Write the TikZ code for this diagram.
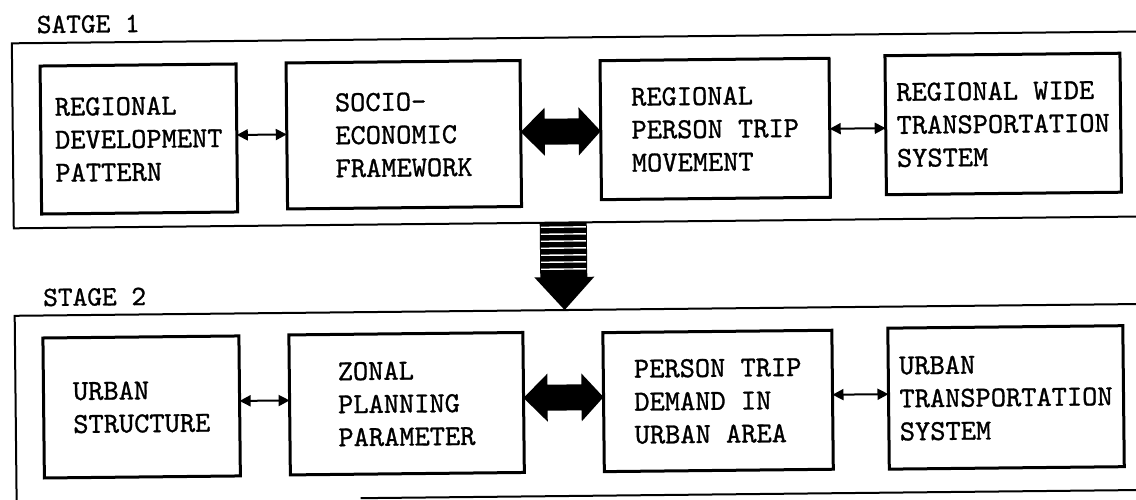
\documentclass[tikz,border=0pt]{standalone}
\usepackage{fontspec}
\usetikzlibrary{arrows.meta,calc}

% typewriter face, slightly emboldened
\newfontfamily\typewriter{lmmono10-regular.otf}[FakeBold=1.0]

\tikzset{
  box/.style={draw, line width=3pt, inner sep=0pt, outer sep=0pt, align=left,
    transform shape, font=\typewriter\bfseries\fontsize{29}{33}\selectfont},
  stagelbl/.style={anchor=west, inner sep=0pt, transform shape,
    font=\typewriter\bfseries\fontsize{28}{30}\selectfont},
  frame/.style={line width=2pt},
  linkarrow/.style={line width=2pt,
    {Triangle[length=11pt,width=11pt]}-{Triangle[length=11pt,width=11pt]}},
}

% broad two-headed arrow between two points on the same level
\newcommand{\wideduplex}[2]{%
  \fill ($(#1)$) -- ($(#1)+(24,-24)$) -- ($(#1)+(24,-13)$)
    -- ($(#2)+(-22,-13)$) -- ($(#2)+(-22,-24)$) -- ($(#2)$)
    -- ($(#2)+(-22,24)$) -- ($(#2)+(-22,13)$)
    -- ($(#1)+(24,13)$) -- ($(#1)+(24,24)$) -- cycle;}

\begin{document}
\begin{tikzpicture}[x=1pt,y=-1pt]
\useasboundingbox (0,0) rectangle (1136,499);
\clip (0,0) rectangle (1136,499);

\begin{scope}[rotate around={0.6:(568,250)}]

% ---------- stage 1 ----------
\node[stagelbl] (s1) at (39,19) {SATGE 1};
\draw[frame] (1150,37.5) -- (14,37.5) -- (14,222.5) -- (1150,222.5);

\node[box, minimum width=196pt, minimum height=148pt] (b11) at (140,134.5)
  {REGIONAL\\DEVELOPMENT\\PATTERN};
\node[box, minimum width=234pt, minimum height=146pt] (b12) at (405,133)
  {SOCIO-\\ECONOMIC\\FRAMEWORK};
\node[box, minimum width=229pt, minimum height=139pt] (b13) at (716.5,130.5)
  {REGIONAL\\PERSON TRIP\\MOVEMENT};
\node[box, minimum width=235pt, minimum height=139pt] (b14) at (1004.5,128.5)
  {REGIONAL WIDE\\TRANSPORTATION\\SYSTEM};

\coordinate (lvl1) at (0,131.5);
\draw[linkarrow] (b11.east |- lvl1) -- (b12.west |- lvl1);
\coordinate (w1a) at (b12.east |- lvl1);
\coordinate (w1b) at (b13.west |- lvl1);
\wideduplex{w1a}{w1b}
\draw[linkarrow] (b13.east |- lvl1) -- (b14.west |- lvl1);

% ---------- transfer arrow (hatched shaft) ----------
\fill (540,222) rectangle (587,278);
\foreach \yy in {227,234,241,248,255,262,269}
  \draw[white, line width=1.4pt] (541,\yy) -- (586,\yy);
\fill (534,277) -- (594,277) -- (564,310) -- cycle;

% ---------- stage 2 ----------
\node[stagelbl] (s2) at (42.5,292) {STAGE 2};
\draw[frame] (1150,310) -- (14,310) -- (14,515);
\draw[frame] (358,496) -- (1150,496);

\node[box, minimum width=196pt, minimum height=140pt] (b21) at (140,402.5)
  {URBAN\\STRUCTURE};
\node[box, minimum width=234pt, minimum height=140pt] (b22) at (405,402)
  {ZONAL\\PLANNING\\PARAMETER};
\node[box, minimum width=229pt, minimum height=139pt] (b23) at (716.5,402.5)
  {PERSON TRIP\\DEMAND IN\\URBAN AREA};
\node[box, minimum width=235pt, minimum height=141pt] (b24) at (1004.5,402)
  {URBAN\\TRANSPORTATION\\SYSTEM};

\coordinate (lvl2) at (0,397.5);
\draw[linkarrow] (b21.east |- lvl2) -- (b22.west |- lvl2);
\coordinate (w2a) at (b22.east |- lvl2);
\coordinate (w2b) at (b23.west |- lvl2);
\wideduplex{w2a}{w2b}
\draw[linkarrow] (b23.east |- lvl2) -- (b24.west |- lvl2);

\end{scope}
\end{tikzpicture}
\end{document}
